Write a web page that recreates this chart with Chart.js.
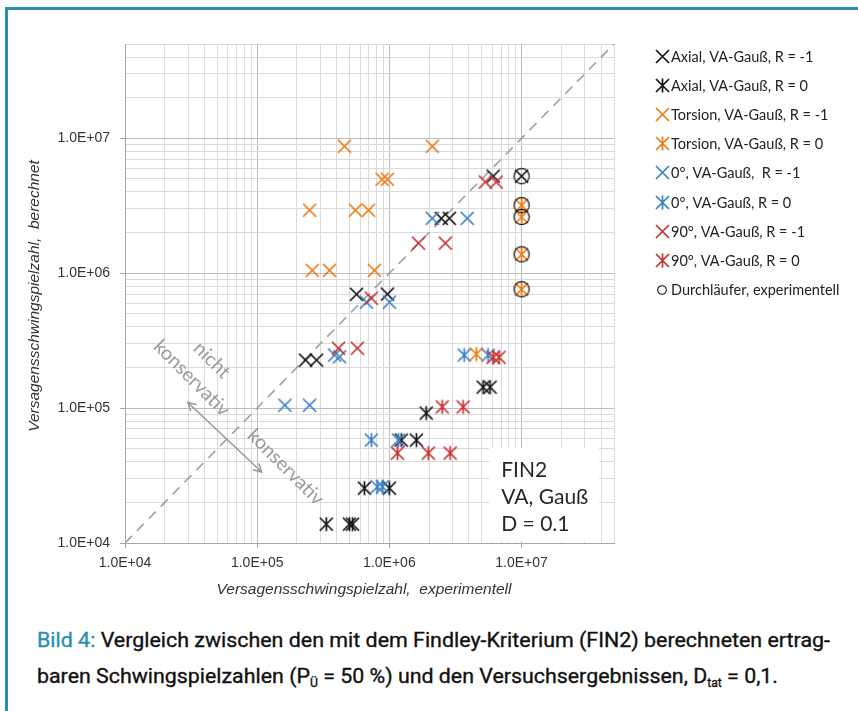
<!DOCTYPE html>
<html><head><meta charset="utf-8">
<script src="https://cdn.jsdelivr.net/npm/chart.js@4"></script>
<style>
html,body{margin:0;padding:0;background:#fff;}
body{width:858px;height:711px;position:relative;overflow:hidden;}
#frameTop{position:absolute;left:5px;top:7px;width:853px;height:3px;background:#2a8fad;}
#frameLeft{position:absolute;left:5px;top:7px;width:3px;height:704px;background:#2a8fad;}
#wrap{position:absolute;left:0;top:0;width:858px;height:610px;}
.cap{position:absolute;left:37px;font-family:Roboto,"Liberation Sans",sans-serif;font-weight:400;font-size:21px;color:#111;white-space:nowrap;transform-origin:0 50%;line-height:26px;-webkit-text-stroke:0.35px #111;}
.cap .b{color:#2a8fad;-webkit-text-stroke:0.35px #2a8fad;}
.cap sub{font-size:12px;vertical-align:-4px;line-height:0;}
</style></head>
<body>
<div id="frameTop"></div><div id="frameLeft"></div>
<div id="wrap"><canvas id="c" width="858" height="610"></canvas></div>
<div class="cap" id="cap1" style="top:627px"><span class="b">Bild 4:</span> Vergleich zwischen den mit dem Findley-Kriterium (FIN2) berechneten ertrag-</div>
<div class="cap" id="cap2" style="top:663px">baren Schwingspielzahlen (P<sub>Ü</sub> = 50 %) und den Versuchsergebnissen, D<sub>tat</sub> = 0,1.</div>
<script>
// ---------- data (experimentell x, berechnet y) ----------
const axialR1X   = [2.32e5, 2.81e5, 5.64e5, 9.66e5, 2.47e6, 2.84e6, 6.1e6, 1.0e7];
const axialR1Y   = [2.27e5, 2.27e5, 6.98e5, 7.0e5, 2.55e6, 2.55e6, 5.24e6, 5.24e6];
const axialR0X   = [3.33e5, 4.99e5, 5.26e5, 6.47e5, 1.0e6, 1.23e6, 1.6e6, 1.9e6, 5.12e6, 5.78e6];
const axialR0Y   = [1.38e4, 1.38e4, 1.38e4, 2.55e4, 2.55e4, 5.79e4, 5.79e4, 9.18e4, 1.43e5, 1.43e5];
const torsR1X    = [4.57e5, 2.11e6, 8.81e5, 9.66e5, 2.49e5, 5.53e5, 6.95e5, 2.61e5, 3.52e5, 7.7e5];
const torsR1Y    = [8.73e6, 8.73e6, 4.97e6, 4.97e6, 2.93e6, 2.93e6, 2.93e6, 1.05e6, 1.05e6, 1.05e6];
const torsR0X    = [4.54e6, 1.0e7, 1.0e7, 1.0e7, 1.0e7];
const torsR0Y    = [2.51e5, 3.19e6, 2.61e6, 1.38e6, 7.6e5];
const deg0R1X    = [1.62e5, 2.49e5, 3.85e5, 4.2e5, 6.7e5, 1.0e6, 2.11e6, 3.88e6];
const deg0R1Y    = [1.05e5, 1.05e5, 2.47e5, 2.4e5, 6.1e5, 6.1e5, 2.55e6, 2.55e6];
const deg0R0X    = [7.3e5, 1.17e6, 8.1e5, 8.85e5, 3.68e6, 5.58e6];
const deg0R0Y    = [5.79e4, 5.79e4, 2.61e4, 2.61e4, 2.47e5, 2.47e5];
const deg90R1X   = [4.12e5, 5.72e5, 7.3e5, 1.66e6, 2.65e6, 5.31e6, 6.43e6];
const deg90R1Y   = [2.78e5, 2.78e5, 6.53e5, 1.67e6, 1.67e6, 4.74e6, 4.74e6];
const deg90R0X   = [1.15e6, 1.97e6, 2.88e6, 2.51e6, 3.61e6, 6.1e6, 6.76e6];
const deg90R0Y   = [4.64e4, 4.64e4, 4.64e4, 1.02e5, 1.02e5, 2.38e5, 2.38e5];
const runoutX    = [1.0e7, 1.0e7, 1.0e7, 1.0e7, 1.0e7];
const runoutY    = [5.24e6, 3.19e6, 2.61e6, 1.38e6, 7.6e5];
const diagX      = [1e4, 5e7];
const diagY      = [1e4, 5e7];
const axisMin = 1e4, axisMax = 5e7;
const majorTicks  = [1e4, 1e5, 1e6, 1e7];
const tickLabels  = ['1.0E+04', '1.0E+05', '1.0E+06', '1.0E+07'];
const seriesLabels = ['Axial, VA-Gauß, R = -1','Axial, VA-Gauß, R = 0','Torsion, VA-Gauß, R = -1','Torsion, VA-Gauß, R = 0','0°, VA-Gauß,  R = -1','0°, VA-Gauß, R = 0','90°, VA-Gauß, R = -1','90°, VA-Gauß, R = 0','Durchläufer, experimentell'];
const boxLines = ['FIN2', 'VA, Gauß', 'D = 0.1'];
// annotation anchors in data space
const annNicht = [4.54e4, 2.27e5];
const annKonsUp = [3.2e4, 1.67e5];
const annKonsLo = [1.64e5, 3.65e4];
const arrowFrom = [2.99e4, 1.1e5], arrowTo = [1.08e5, 3.36e4];
const boxFrom = [5.69e6, 1.03e4], boxTo = [3.85e7, 5.06e4];

// ---------- styling ----------
const C_BLACK='#141414', C_OR='#f07a10', C_BLUE='#3b7fc6', C_RED='#c8302b';
function sprite(color, kind){
  const s=17, c=document.createElement('canvas'); c.width=c.height=s;
  const g=c.getContext('2d'); g.strokeStyle=color; g.lineWidth=1.7; g.lineCap='butt';
  const h=s/2, r=6.5;
  g.beginPath();
  g.moveTo(h-r,h-r); g.lineTo(h+r,h+r); g.moveTo(h+r,h-r); g.lineTo(h-r,h+r);
  if(kind==='ast'){ g.moveTo(h,h-r-0.5); g.lineTo(h,h+r+0.5); }
  g.stroke(); return c;
}
function circ(){
  const s=20, c=document.createElement('canvas'); c.width=c.height=s;
  const g=c.getContext('2d'); g.strokeStyle='#111'; g.lineWidth=1.2;
  g.beginPath(); g.arc(s/2,s/2,7.6,0,Math.PI*2); g.stroke(); return c;
}
function circSmall(){
  const s=14, c=document.createElement('canvas'); c.width=c.height=s;
  const g=c.getContext('2d'); g.strokeStyle='#111'; g.lineWidth=1.1;
  g.beginPath(); g.arc(s/2,s/2,4.3,0,Math.PI*2); g.stroke(); return c;
}
const pts=(xs,ys)=>xs.map((x,i)=>({x:x,y:ys[i]}));
const styles=[
  [axialR1X,axialR1Y,sprite(C_BLACK,'x')],
  [axialR0X,axialR0Y,sprite(C_BLACK,'ast')],
  [torsR1X,torsR1Y,sprite(C_OR,'x')],
  [torsR0X,torsR0Y,sprite(C_OR,'ast')],
  [deg0R1X,deg0R1Y,sprite(C_BLUE,'x')],
  [deg0R0X,deg0R0Y,sprite(C_BLUE,'ast')],
  [deg90R1X,deg90R1Y,sprite(C_RED,'x')],
  [deg90R0X,deg90R0Y,sprite(C_RED,'ast')],
  [runoutX,runoutY,circ()]
];
const legendIcons=styles.map(s=>s[2]); legendIcons[8]=circSmall();
const datasets=styles.map((s,i)=>({label:seriesLabels[i],data:pts(s[0],s[1]),pointStyle:s[2],pointRadius:8,showLine:false,order:10-i}));
datasets.push({label:'',data:pts(diagX,diagY),showLine:true,pointRadius:0,borderColor:'#a0a0a0',borderWidth:1.6,borderDash:[10,7],order:20});

const isMajor=v=>Math.abs(Math.log10(v)-Math.round(Math.log10(v)))<1e-9;
function buildTicks(scale){
  const t=[];
  for(let e=4;e<=7;e++) for(let m=1;m<=9;m++){ const v=m*Math.pow(10,e); if(v<=axisMax+1) t.push({value:v}); }
  scale.ticks=t;
}
const gridColor=ctx=>(ctx.tick && isMajor(ctx.tick.value))?'#bdbdbd':'#dadada';
const tickColor=ctx=>(ctx.tick && isMajor(ctx.tick.value))?'#a6a6a6':'rgba(0,0,0,0)';
const tickCb=v=>{const i=majorTicks.findIndex(m=>Math.abs(m-v)<1e-6*m);return i>=0?tickLabels[i]:'';};
const tickFont={family:'"Liberation Sans", Arial, sans-serif',size:14};

const extras={
  id:'extras',
  beforeDatasetsDraw(chart){
    const g=chart.ctx, xs=chart.scales.x, ys=chart.scales.y;
    // text box
    const x0=xs.getPixelForValue(boxFrom[0]), x1=xs.getPixelForValue(boxTo[0]);
    const y0=ys.getPixelForValue(boxTo[1]), y1=ys.getPixelForValue(boxFrom[1]);
    g.save(); g.fillStyle='#fff'; g.fillRect(x0,y0,x1-x0,y1-y0);
    g.fillStyle='#262626'; g.font='21px Lato, "Open Sans", sans-serif'; g.textBaseline='alphabetic';
    boxLines.forEach((l,i)=>g.fillText(l,x0+12,y0+29+i*27));
    g.restore();
  },
  afterDatasetsDraw(chart){
    const g=chart.ctx, xs=chart.scales.x, ys=chart.scales.y;
    const P=a=>[xs.getPixelForValue(a[0]),ys.getPixelForValue(a[1])];
    g.save();
    g.fillStyle='#9a9a9a'; g.font='19.5px Lato, "Open Sans", sans-serif'; g.textAlign='center'; g.textBaseline='middle';
    [[annNicht,'nicht'],[annKonsUp,'konservativ'],[annKonsLo,'konservativ']].forEach(([a,t])=>{
      const p=P(a); g.save(); g.translate(p[0],p[1]); g.rotate(Math.PI/4); g.fillText(t,0,0); g.restore();
    });
    // double arrow
    const a=P(arrowFrom), b=P(arrowTo);
    g.strokeStyle='#9a9a9a'; g.lineWidth=1.6;
    g.beginPath(); g.moveTo(a[0],a[1]); g.lineTo(b[0],b[1]); g.stroke();
    const ang=Math.atan2(b[1]-a[1],b[0]-a[0]);
    const head=(p,dir)=>{g.beginPath();
      g.moveTo(p[0]+9*Math.cos(dir+0.5),p[1]+9*Math.sin(dir+0.5)); g.lineTo(p[0],p[1]);
      g.lineTo(p[0]+9*Math.cos(dir-0.5),p[1]+9*Math.sin(dir-0.5)); g.stroke();};
    head(a,ang); head(b,ang+Math.PI);
    // axis titles
    g.fillStyle='#333'; g.font='italic 15.5px "Liberation Sans", Arial, sans-serif'; g.textAlign='center'; g.textBaseline='middle';
    g.fillText('Versagensschwingspielzahl,  experimentell',364,590);
    g.save(); g.translate(35,296); g.rotate(-Math.PI/2);
    g.fillText('Versagensschwingspielzahl,  berechnet',0,0); g.restore();
    // legend
    g.textAlign='left'; g.fillStyle='#222'; g.font='14.5px Lato, "Open Sans", sans-serif';
    for(let i=0;i<9;i++){
      const y=56+i*29.2, ic=legendIcons[i];
      g.drawImage(ic,Math.round(662-ic.width/2),Math.round(y-ic.height/2));
      g.fillText(seriesLabels[i],671,y+1);
    }
    g.restore();
  }
};

new Chart(document.getElementById('c'),{
  type:'scatter',
  data:{datasets},
  plugins:[extras],
  options:{
    responsive:false, animation:false, devicePixelRatio:1,
    layout:{padding:{left:0,top:44,right:244,bottom:0}},
    plugins:{legend:{display:false},tooltip:{enabled:false}},
    scales:{
      x:{type:'logarithmic',min:axisMin,max:axisMax,afterBuildTicks:buildTicks,
         afterFit:s=>{s.height=67;},
         border:{color:'#a6a6a6',width:1},
         grid:{color:gridColor,tickColor:tickColor,tickLength:5,lineWidth:1},
         ticks:{callback:tickCb,autoSkip:false,maxRotation:0,padding:7,color:'#333',font:tickFont}},
      y:{type:'logarithmic',min:axisMin,max:axisMax,afterBuildTicks:buildTicks,
         afterFit:s=>{s.width=125;},
         border:{color:'#a6a6a6',width:1},
         grid:{color:gridColor,tickColor:tickColor,tickLength:5,lineWidth:1},
         ticks:{callback:tickCb,autoSkip:false,padding:10,color:'#333',font:tickFont}}
    }
  }
});
// fit caption lines to the reference line lengths
[['cap1',793],['cap2',741]].forEach(([id,w])=>{const el=document.getElementById(id);const m=el.getBoundingClientRect().width;el.style.transform='scaleX('+(w/m)+')';});
</script>
</body></html>
